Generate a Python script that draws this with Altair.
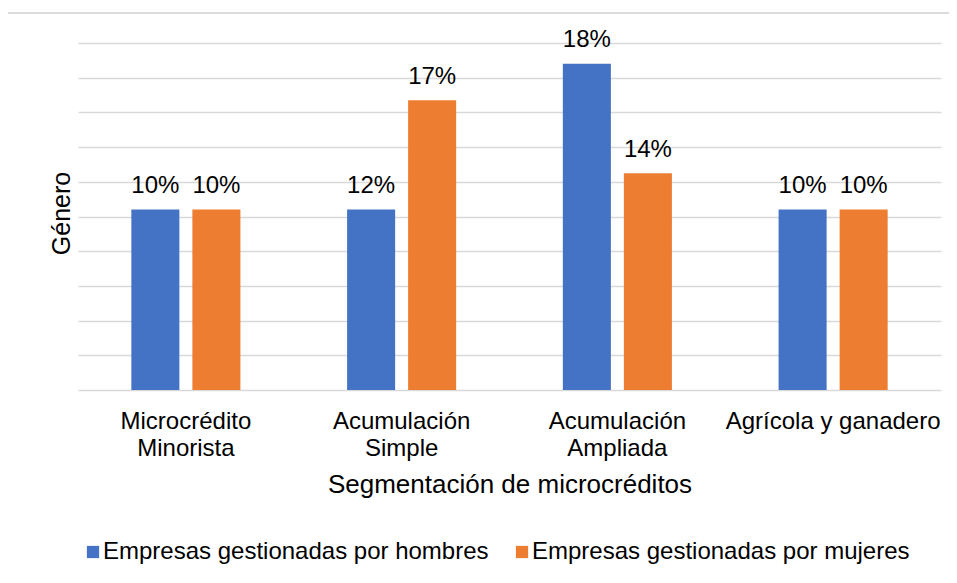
import altair as alt
import pandas as pd

categories = ["Microcrédito Minorista", "Acumulación Simple", "Acumulación Ampliada", "Agrícola y ganadero"]
series = ["Empresas gestionadas por hombres", "Empresas gestionadas por mujeres"]
hombres = [10.4, 10.4, 18.8, 10.4]
mujeres = [10.4, 16.7, 12.5, 10.4]
labels_hombres = ["10%", "12%", "18%", "10%"]
labels_mujeres = ["10%", "17%", "14%", "10%"]
grid_values = [0, 2, 4, 6, 8, 10, 12, 14, 16, 18, 20]
colors = ["#4472C4", "#ED7D31"]

rows = []
for i, c in enumerate(categories):
    rows.append({"cat": c, "serie": series[0], "valor": hombres[i], "etiqueta": labels_hombres[i]})
    rows.append({"cat": c, "serie": series[1], "valor": mujeres[i], "etiqueta": labels_mujeres[i]})
df = pd.DataFrame(rows)

FONT = "Liberation Sans"

x_enc = alt.X(
    "cat:N",
    sort=categories,
    scale=alt.Scale(paddingInner=0, paddingOuter=0),
    axis=alt.Axis(
        title="Segmentación de microcréditos",
        labelAngle=0,
        labelFontSize=24,
        labelFont=FONT,
        labelColor="#000000",
        labelPadding=19,
        labelLineHeight=27,
        labelBaseline="top",
        labelLimit=0,
        labelExpr="datum.label == 'Agrícola y ganadero' ? datum.label : split(datum.label, ' ')",
        ticks=False,
        tickSize=0,
        domain=False,
        titleFontSize=26,
        titleFont=FONT,
        titleFontWeight="normal",
        titleColor="#000000",
        titleBaseline="alphabetic",
        titleY=102,
    ),
)
xoff = alt.XOffset("serie:N", sort=series, scale=alt.Scale(paddingInner=0.213, paddingOuter=0.874))

y_enc = alt.Y(
    "valor:Q",
    scale=alt.Scale(domain=[0, 20], nice=False),
    axis=alt.Axis(
        title="Género",
        values=grid_values,
        tickCount=11,
        labels=False,
        ticks=False,
        domain=False,
        grid=True,
        gridColor="#D9D9D9",
        gridWidth=1.3,
        titleFontSize=25,
        titleFont=FONT,
        titleFontWeight="normal",
        titleColor="#000000",
        titleAngle=-90,
        titleBaseline="alphabetic",
        titleAlign="center",
        titleX=-9,
        titleY=170,
    ),
)

color_enc = alt.Color(
    "serie:N",
    sort=series,
    scale=alt.Scale(domain=series, range=colors),
    legend=alt.Legend(
        title=None,
        orient="none",
        direction="horizontal",
        legendX=3,
        legendY=497,
        symbolType="square",
        symbolSize=150,
        symbolStrokeWidth=0,
        labelFontSize=24,
        labelFont=FONT,
        labelColor="#000000",
        labelLimit=0,
        labelOffset={"expr": "-2"},
        columnPadding=21,
    ),
)

bars = alt.Chart(df).mark_bar().encode(
    x=x_enc,
    xOffset=xoff,
    y=y_enc,
    color=color_enc,
)

text = alt.Chart(df).mark_text(
    baseline="alphabetic", dy=-16.5, fontSize=24, font=FONT, color="#000000"
).encode(
    x=x_enc,
    xOffset=xoff,
    y=y_enc,
    text="etiqueta:N",
)

border_df = pd.DataFrame({"k": [0]})
top_border = alt.Chart(border_df).mark_rule(color="#D0D0D0", strokeWidth=1.5).encode(
    x=alt.value(-78), x2=alt.value(880), y=alt.value(-30)
)
left_border = alt.Chart(border_df).mark_rule(color="#D0D0D0", strokeWidth=1.5).encode(
    x=alt.value(-77), y=alt.value(-30), y2=alt.value(520)
)

chart = alt.layer(top_border, left_border, bars, text).properties(
    width=863,
    height=347,
    autosize=alt.AutoSizeParams(type="none"),
    padding={"left": 70, "top": 35, "right": 8, "bottom": 175},
    background="white",
).resolve_scale(y="shared").configure_view(stroke=None).configure_axis(
    labelOverlap=False
)

chart.save("out.html", embed_options={"renderer": "svg", "actions": False})
